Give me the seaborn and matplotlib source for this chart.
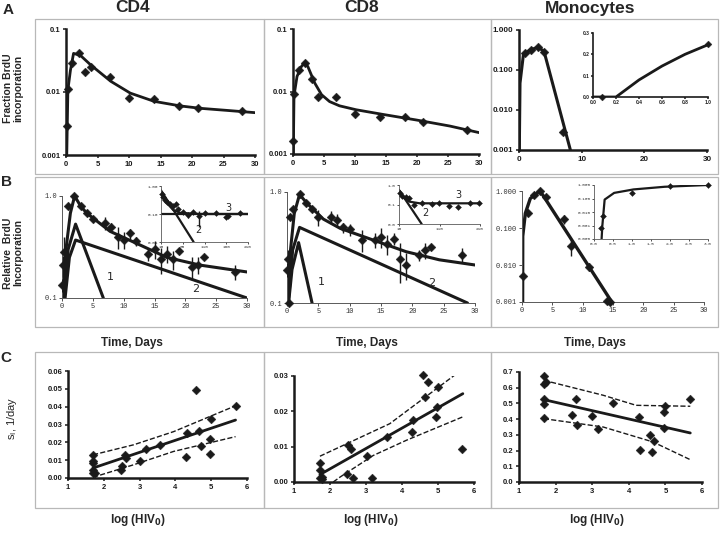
import numpy as np
import pandas as pd
import matplotlib
matplotlib.use("Agg")
import matplotlib.pyplot as plt
import seaborn as sns
from matplotlib.patches import Rectangle
from matplotlib.ticker import NullLocator

# ---------------- DATA ----------------
# Row A: fraction BrdU incorporation (log scale)
a_cd4_t = [0.15, 0.3, 1, 2, 3, 4, 7, 10, 14, 18, 21, 28]
a_cd4_y = [0.0029, 0.011, 0.029, 0.041, 0.021, 0.025, 0.0176, 0.0079, 0.0077, 0.0061, 0.0056, 0.005]
a_cd4_fit_t = [0.12, 0.3, 0.7, 1.2, 2.3, 3.9, 7.1, 10.2, 14, 18.2, 21.4, 25.6, 30]
a_cd4_fit_y = [0.001, 0.0108, 0.022, 0.041, 0.038, 0.027, 0.0148, 0.0096, 0.0071, 0.006, 0.0055, 0.0051, 0.0047]

a_cd8_t = [0.0, 0.1, 1, 2, 3, 4, 7, 10, 14, 18, 21, 28]
a_cd8_y = [0.0016, 0.0091, 0.0224, 0.0285, 0.0158, 0.0083, 0.0081, 0.0043, 0.0039, 0.0039, 0.0032, 0.0024]
a_cd8_fit_t = [0.05, 0.16, 0.65, 1.34, 1.9, 2.4, 3.5, 4.6, 5.9, 7.5, 10.2, 14.5, 19.9, 25.3, 30]
a_cd8_fit_y = [0.001, 0.0085, 0.0174, 0.025, 0.029, 0.025, 0.0137, 0.0089, 0.0069, 0.0059, 0.0051, 0.0043, 0.0035, 0.0028, 0.0022]

a_mono_t = [0.9, 1.9, 3.1, 4.0, 7.0]
a_mono_y = [0.26, 0.32, 0.38, 0.29, 0.0029]
a_mono_fit_t = [0.05, 0.16, 0.7, 1.8, 3.1, 4.0, 8.2]
a_mono_fit_y = [0.001, 0.047, 0.24, 0.32, 0.37, 0.29, 0.001]
a_mono_in_t = [0.08, 1.0]
a_mono_in_y = [0.0, 0.25]
a_mono_in_fit_t = [0.0, 0.2, 0.3, 0.4, 0.6, 0.8, 1.0]
a_mono_in_fit_y = [0.0, 0.0, 0.04, 0.08, 0.145, 0.2, 0.245]

# Row B: relative BrdU incorporation
b_cd4_t = [0, 0.2, 0.3, 1, 2, 3, 4, 5, 7, 8, 9, 10, 11, 12, 14, 15, 16, 17, 18, 19, 21, 22, 23, 28]
b_cd4_y = [0.135, 0.21, 0.28, 0.8, 1.0, 0.79, 0.68, 0.59, 0.54, 0.5, 0.4, 0.37, 0.43, 0.36,
           0.27, 0.30, 0.24, 0.27, 0.24, 0.29, 0.2, 0.21, 0.25, 0.18]
b_cd4_err = [0.02, 0.05, 0.12, 0.03, 0.0, 0.03, 0.03, 0.03, 0.08, 0.04, 0.1, 0.07, 0.05, 0.04,
             0.04, 0.06, 0.07, 0.05, 0.05, 0.02, 0.05, 0.04, 0.0, 0.03]
b_cd4_fit_t = [0.15, 0.7, 1.36, 2.05, 3.0, 4.0, 7.8, 12.7, 17, 22.4, 30]
b_cd4_fit_y = [0.1, 0.32, 0.68, 1.0, 0.8, 0.68, 0.45, 0.33, 0.25, 0.21, 0.18]
b_cd4_c1_t = [0.35, 1.0, 2.2, 6.7]
b_cd4_c1_y = [0.1, 0.3, 0.53, 0.1]
b_cd4_c2_t = [0.5, 1.2, 2.2, 30]
b_cd4_c2_y = [0.1, 0.25, 0.37, 0.1]
b_cd4_in_t = [11.5, 15.3, 19, 24.5, 30.6, 36.7, 43.6, 49.7, 59.6, 71, 84, 97.8, 110.8, 137.5, 158.9, 164, 191]
b_cd4_in_y = [0.53, 0.40, 0.31, 0.27, 0.23, 0.19, 0.23, 0.155, 0.12, 0.09, 0.12, 0.083, 0.11, 0.11, 0.079, 0.083, 0.11]
b_cd4_in_err = [0, 0, 0, 0, 0, 0, 0, 0, 0, 0.02, 0, 0.05, 0, 0, 0, 0, 0]
b_cd4_in_fit_t = [10, 23, 38, 54, 99, 210]
b_cd4_in_fit_y = [0.6, 0.25, 0.14, 0.11, 0.1, 0.1]
b_cd4_in_c2_t = [10, 85]
b_cd4_in_c2_y = [0.7, 0.01]
b_cd4_in_c3_t = [10, 210]
b_cd4_in_c3_y = [0.097, 0.097]

b_cd8_t = [0, 0.1, 0.25, 0.5, 1, 2, 3, 4, 5, 7, 8, 9, 10, 12, 14, 15, 16, 17, 18, 19, 21, 22, 23, 28]
b_cd8_y = [0.2, 0.25, 0.1, 0.6, 0.71, 0.95, 0.79, 0.71, 0.59, 0.59, 0.56, 0.48, 0.46, 0.37,
           0.37, 0.39, 0.34, 0.38, 0.25, 0.22, 0.27, 0.30, 0.32, 0.27]
b_cd8_err = [0.03, 0.05, 0.0, 0.03, 0.03, 0.0, 0.03, 0.04, 0.1, 0.08, 0.08, 0.05, 0.06, 0.08,
             0.06, 0.08, 0.07, 0.05, 0.1, 0.06, 0.03, 0.05, 0.0, 0.04]
b_cd8_fit_t = [0.1, 0.5, 1.16, 2.0, 3.2, 5.8, 8.5, 13.7, 19, 24.3, 30]
b_cd8_fit_y = [0.1, 0.28, 0.64, 0.95, 0.79, 0.57, 0.47, 0.37, 0.29, 0.245, 0.22]
b_cd8_c1_t = [0.25, 0.8, 1.85, 4.0]
b_cd8_c1_y = [0.1, 0.2, 0.35, 0.1]
b_cd8_c2_t = [0.2, 0.9, 2.0, 28.8]
b_cd8_c2_y = [0.1, 0.3, 0.48, 0.1]
b_cd8_in_t = [12.6, 18.6, 27.2, 35.8, 46, 65.8, 91.5, 108.7, 134.5, 156, 186, 207]
b_cd8_in_y = [0.37, 0.27, 0.25, 0.21, 0.094, 0.115, 0.107, 0.115, 0.084, 0.071, 0.125, 0.115]
b_cd8_in_fit_t = [10, 23, 35.7, 61, 210]
b_cd8_in_fit_y = [0.55, 0.21, 0.14, 0.115, 0.115]
b_cd8_in_c2_t = [10, 66]
b_cd8_in_c2_y = [0.55, 0.01]

b_mono_t = [0.17, 1, 2, 3, 4, 7, 8, 11, 14, 14.5]
b_mono_y = [0.0049, 0.25, 0.78, 1.0, 0.7, 0.18, 0.033, 0.0091, 0.00105, 0.001]
b_mono_err = [0.0, 0.03, 0.05, 0.0, 0.05, 0.05, 0.015, 0.002, 0.0, 0.0]
b_mono_fit_t = [0.1, 0.12, 0.55, 1.37, 3.0, 14.8]
b_mono_fit_y = [0.001, 0.06, 0.25, 0.63, 1.0, 0.001]
b_mono_in_t = [0.19, 0.24, 1.0, 2.0, 3.0]
b_mono_in_y = [0.00063, 0.0053, 0.27, 0.84, 1.0]
b_mono_in_fit_t = [0.2, 0.22, 0.28, 0.53, 1.04, 1.86, 3.0]
b_mono_in_fit_y = [0.0001, 0.001, 0.083, 0.26, 0.47, 0.74, 1.0]

# Row C: s1 vs log(HIV0)
c_cd4_x = [1.7, 1.7, 1.7, 1.7, 1.7, 1.75, 2.48, 2.52, 2.59, 2.63, 3.02, 3.17, 3.58, 4.3, 4.32,
           4.58, 4.66, 4.72, 4.96, 4.97, 5.0, 5.68]
c_cd4_y = [0.013, 0.0097, 0.0084, 0.0046, 0.0028, 0.0028, 0.0043, 0.0069, 0.013, 0.011, 0.0093,
           0.0163, 0.0186, 0.0117, 0.0254, 0.0496, 0.0266, 0.0177, 0.0217, 0.0134, 0.0333, 0.0405]
c_cd4_fit_x = [1.7, 5.68]
c_cd4_fit_y = [0.0056, 0.0325]
c_cd4_up_x = [1.7, 2.83, 3.95, 5.68]
c_cd4_up_y = [0.013, 0.0186, 0.026, 0.0405]
c_cd4_lo_x = [1.7, 2.83, 3.95, 5.68]
c_cd4_lo_y = [0.0004, 0.0074, 0.0149, 0.0232]

c_cd8_x = [1.72, 1.72, 1.72, 1.77, 1.79, 2.51, 2.58, 2.48, 2.65, 3.03, 3.17, 3.59, 4.29, 4.31,
           4.59, 4.65, 4.72, 4.94, 4.96, 5.01, 5.68]
c_cd8_y = [0.0055, 0.0035, 0.0011, 0.0009, 0.0014, 0.0104, 0.0092, 0.0024, 0.0011, 0.0075,
           0.0011, 0.0127, 0.0142, 0.0175, 0.0302, 0.0241, 0.0283, 0.0184, 0.0212, 0.0269, 0.0094]
c_cd8_fit_x = [1.72, 5.69]
c_cd8_fit_y = [0.0021, 0.025]
c_cd8_up_x = [1.72, 3.66, 5.6]
c_cd8_up_y = [0.0073, 0.0165, 0.0313]
c_cd8_lo_x = [2.09, 2.28, 3.2, 4.12, 5.68]
c_cd8_lo_y = [0.0, 0.0014, 0.0075, 0.0118, 0.0184]

c_mono_x = [1.68, 1.68, 1.75, 1.68, 1.68, 1.68, 2.45, 2.55, 2.59, 3.0, 3.15, 3.56, 4.28, 4.3,
            4.57, 4.64, 4.7, 4.95, 5.0, 4.95, 5.68]
c_mono_y = [0.675, 0.626, 0.637, 0.53, 0.498, 0.408, 0.425, 0.529, 0.365, 0.423, 0.34, 0.505,
            0.416, 0.206, 0.297, 0.191, 0.261, 0.446, 0.482, 0.344, 0.529]
c_mono_fit_x = [1.68, 5.68]
c_mono_fit_y = [0.524, 0.312]
c_mono_up_x = [1.68, 3.3, 4.2, 5.68]
c_mono_up_y = [0.647, 0.552, 0.488, 0.482]
c_mono_lo_x = [1.68, 3.3, 4.66, 5.68]
c_mono_lo_y = [0.403, 0.35, 0.255, 0.142]

# ---------------- FIGURE ----------------
sns.set_theme(style="white")
plt.rcParams['font.family'] = ['Liberation Sans', 'DejaVu Sans']
plt.rcParams['mathtext.fontset'] = 'dejavusans'

W, H = 720, 534
fig = plt.figure(figsize=(7.2, 5.34), dpi=100)
fig.patch.set_facecolor('white')


def rect(x0, y0, x1, y1):
    return [x0 / W, 1 - y1 / H, (x1 - x0) / W, (y1 - y0) / H]


def add_box(x0, y0, x1, y1):
    fig.patches.append(Rectangle((x0 / W, 1 - y1 / H), (x1 - x0) / W, (y1 - y0) / H,
                                 transform=fig.transFigure, fill=False,
                                 edgecolor='0.72', lw=0.9))


for (y0, y1) in [(19, 174), (177, 327), (352, 508)]:
    add_box(35, y0, 264, y1)
    add_box(264, y0, 491, y1)
    add_box(491, y0, 718, y1)


def fit_line(ax, x, y, lw=2.0, ls='-'):
    sns.lineplot(x=x, y=y, ax=ax, color='k', lw=lw, sort=False, estimator=None,
                 linestyle=ls, legend=False)


def dots(ax, x, y, s=20):
    sns.scatterplot(x=x, y=y, ax=ax, marker='D', color='k', s=s, edgecolor='k',
                    linewidth=0.3, legend=False, zorder=5, clip_on=False)


def errs(ax, x, y, e):
    ax.errorbar(x, y, yerr=e, fmt='none', ecolor='k', elinewidth=1.0, capsize=0, zorder=4)


def style_bold(ax, xt, xl, yt, yl, fs=5.5, lw=1.8):
    ax.set_facecolor('none')
    for s in ['top', 'right']:
        ax.spines[s].set_visible(False)
    for s in ['left', 'bottom']:
        ax.spines[s].set_linewidth(lw)
        ax.spines[s].set_color('k')
    ax.tick_params(which='both', direction='out', length=2.5, width=1.1, pad=1.5,
                   bottom=True, left=True, colors='k')
    ax.yaxis.set_minor_locator(NullLocator())
    ax.xaxis.set_minor_locator(NullLocator())
    ax.set_xticks(xt)
    ax.set_xticklabels(xl, fontsize=fs, fontweight='bold')
    ax.set_yticks(yt)
    ax.set_yticklabels(yl, fontsize=fs, fontweight='bold')
    ax.set_xlabel('')
    ax.set_ylabel('')


def style_mono(ax, xt, xl, yt, yl, fs=5.0, lw=0.7):
    ax.set_facecolor('none')
    for s in ['top', 'right']:
        ax.spines[s].set_visible(False)
    for s in ['left', 'bottom']:
        ax.spines[s].set_linewidth(lw)
        ax.spines[s].set_color('0.35')
    ax.tick_params(which='both', direction='out', length=2, width=0.6, pad=1.5,
                   bottom=True, left=True, colors='0.2')
    ax.yaxis.set_minor_locator(NullLocator())
    ax.xaxis.set_minor_locator(NullLocator())
    ax.set_xticks(xt)
    ax.set_xticklabels(xl, fontsize=fs, family='Liberation Mono')
    ax.set_yticks(yt)
    ax.set_yticklabels(yl, fontsize=fs, family='Liberation Mono')
    ax.set_xlabel('')
    ax.set_ylabel('')


x30 = [0, 5, 10, 15, 20, 25, 30]
x30l = [str(v) for v in x30]

# ---- Row A ----
ax = fig.add_axes(rect(66, 29, 255, 155))
ax.set_yscale('log')
fit_line(ax, a_cd4_fit_t, a_cd4_fit_y)
dots(ax, a_cd4_t, a_cd4_y)
ax.set_xlim(0, 30); ax.set_ylim(0.001, 0.1)
style_bold(ax, x30, x30l, [0.001, 0.01, 0.1], ['0.001', '0.01', '0.1'])

ax = fig.add_axes(rect(293, 29, 479, 154))
ax.set_yscale('log')
fit_line(ax, a_cd8_fit_t, a_cd8_fit_y)
dots(ax, a_cd8_t, a_cd8_y)
ax.set_xlim(0, 30); ax.set_ylim(0.001, 0.1)
style_bold(ax, x30, x30l, [0.001, 0.01, 0.1], ['0.001', '0.01', '0.1'])

ax = fig.add_axes(rect(519, 30, 707, 150))
ax.set_yscale('log')
fit_line(ax, a_mono_fit_t, a_mono_fit_y, lw=2.2)
dots(ax, a_mono_t, a_mono_y)
ax.set_xlim(0, 30); ax.set_ylim(0.001, 1.0)
style_bold(ax, [0, 10, 20, 30], ['0', '10', '20', '30'],
           [0.001, 0.01, 0.1, 1.0], ['0.001', '0.010', '0.100', '1.000'], fs=5.8)

ax = fig.add_axes(rect(593, 33, 708, 97))
fit_line(ax, a_mono_in_fit_t, a_mono_in_fit_y)
dots(ax, a_mono_in_t, a_mono_in_y, s=12)
ax.set_xlim(0, 1.0); ax.set_ylim(0, 0.3)
style_bold(ax, [0, 0.2, 0.4, 0.6, 0.8, 1.0], ['0.0', '0.2', '0.4', '0.6', '0.8', '1.0'],
           [0, 0.1, 0.2, 0.3], ['0.0', '0.1', '0.2', '0.3'], fs=3.5, lw=1.2)
ax.tick_params(length=1.5, pad=1)

# ---- Row B ----
ax = fig.add_axes(rect(62, 196, 247, 298))
ax.set_yscale('log')
fit_line(ax, b_cd4_fit_t, b_cd4_fit_y, lw=2.2)
fit_line(ax, b_cd4_c1_t, b_cd4_c1_y, lw=2.2)
fit_line(ax, b_cd4_c2_t, b_cd4_c2_y, lw=2.2)
errs(ax, b_cd4_t, b_cd4_y, b_cd4_err)
dots(ax, b_cd4_t, b_cd4_y)
ax.text(7.8, 0.16, '1', fontsize=8, ha='center', va='center', family='DejaVu Sans')
ax.text(21.6, 0.123, '2', fontsize=8, ha='center', va='center', family='DejaVu Sans')
ax.set_xlim(0, 30); ax.set_ylim(0.1, 1.0)
style_mono(ax, x30, x30l, [0.1, 1.0], ['0.1', '1.0'])

ax = fig.add_axes(rect(161, 186, 248, 242))
ax.set_yscale('log')
fit_line(ax, b_cd4_in_c3_t, b_cd4_in_c3_y, lw=1.6)
fit_line(ax, b_cd4_in_c2_t, b_cd4_in_c2_y, lw=1.6)
fit_line(ax, b_cd4_in_fit_t, b_cd4_in_fit_y, lw=1.6)
errs(ax, b_cd4_in_t, b_cd4_in_y, b_cd4_in_err)
dots(ax, b_cd4_in_t, b_cd4_in_y, s=9)
ax.text(97, 0.026, '2', fontsize=7, ha='center', va='center', family='DejaVu Sans')
ax.text(166, 0.16, '3', fontsize=7, ha='center', va='center', family='DejaVu Sans')
ax.set_xlim(10, 210); ax.set_ylim(0.01, 1.0)
style_mono(ax, [10, 60, 110, 160, 210], ['10', '60', '110', '160', '210'],
           [0.01, 0.1, 1.0], ['0.01', '0.10', '1.00'], fs=3.2, lw=0.6)
ax.tick_params(length=1.2, pad=1)

ax = fig.add_axes(rect(287, 192, 475, 303))
ax.set_yscale('log')
fit_line(ax, b_cd8_fit_t, b_cd8_fit_y, lw=2.2)
fit_line(ax, b_cd8_c1_t, b_cd8_c1_y, lw=2.2)
fit_line(ax, b_cd8_c2_t, b_cd8_c2_y, lw=2.2)
errs(ax, b_cd8_t, b_cd8_y, b_cd8_err)
dots(ax, b_cd8_t, b_cd8_y)
ax.text(5.5, 0.155, '1', fontsize=8, ha='center', va='center', family='DejaVu Sans')
ax.text(23.1, 0.15, '2', fontsize=8, ha='center', va='center', family='DejaVu Sans')
ax.set_xlim(0, 30); ax.set_ylim(0.1, 1.0)
style_mono(ax, x30, x30l, [0.1, 1.0], ['0.1', '1.0'])

ax = fig.add_axes(rect(399, 185, 480, 224))
ax.set_yscale('log')
fit_line(ax, b_cd8_in_fit_t, b_cd8_in_fit_y, lw=1.6)
fit_line(ax, b_cd8_in_c2_t, b_cd8_in_c2_y, lw=1.6)
dots(ax, b_cd8_in_t, b_cd8_in_y, s=9)
ax.text(76, 0.035, '2', fontsize=7, ha='center', va='center', family='DejaVu Sans')
ax.text(156, 0.31, '3', fontsize=7, ha='center', va='center', family='DejaVu Sans')
ax.set_xlim(10, 210); ax.set_ylim(0.01, 1.0)
style_mono(ax, [10, 110, 210], ['10', '110', '210'],
           [0.01, 0.1, 1.0], ['0.0', '0.1', '1.0'], fs=3.2, lw=0.6)
ax.tick_params(length=1.2, pad=1)

ax = fig.add_axes(rect(522, 191, 704, 302))
ax.set_yscale('log')
fit_line(ax, b_mono_fit_t, b_mono_fit_y, lw=2.4)
errs(ax, b_mono_t, b_mono_y, b_mono_err)
dots(ax, b_mono_t, b_mono_y)
ax.set_xlim(0, 30); ax.set_ylim(0.001, 1.0)
style_mono(ax, x30, x30l, [0.001, 0.01, 0.1, 1.0], ['0.001', '0.010', '0.100', '1.000'])

ax = fig.add_axes(rect(594, 185, 708, 239))
ax.set_yscale('log')
fit_line(ax, b_mono_in_fit_t, b_mono_in_fit_y, lw=1.6)
dots(ax, b_mono_in_t, b_mono_in_y, s=9)
ax.set_xlim(0, 3.0); ax.set_ylim(0.0001, 1.0)
style_mono(ax, [0, 0.5, 1.0, 1.5, 2.0, 2.5, 3.0], ['0.0', '0.5', '1.0', '1.5', '2.0', '2.5', '3.0'],
           [0.0001, 0.001, 0.01, 0.1, 1.0], ['0.000', '0.001', '0.010', '0.100', '1.000'],
           fs=3.2, lw=0.6)
ax.tick_params(length=1.2, pad=1)

# ---- Row C ----
x6 = [1, 2, 3, 4, 5, 6]
x6l = [str(v) for v in x6]

ax = fig.add_axes(rect(68, 371, 247, 478))
fit_line(ax, c_cd4_up_x, c_cd4_up_y, lw=1.0, ls='--')
fit_line(ax, c_cd4_lo_x, c_cd4_lo_y, lw=1.0, ls='--')
fit_line(ax, c_cd4_fit_x, c_cd4_fit_y, lw=2.0)
dots(ax, c_cd4_x, c_cd4_y)
ax.set_xlim(1, 6); ax.set_ylim(0, 0.06)
style_bold(ax, x6, x6l, [0, 0.01, 0.02, 0.03, 0.04, 0.05, 0.06],
           ['0.00', '0.01', '0.02', '0.03', '0.04', '0.05', '0.06'])

ax = fig.add_axes(rect(294, 376, 474, 482))
fit_line(ax, c_cd8_up_x, c_cd8_up_y, lw=1.0, ls='--')
fit_line(ax, c_cd8_lo_x, c_cd8_lo_y, lw=1.0, ls='--')
fit_line(ax, c_cd8_fit_x, c_cd8_fit_y, lw=2.0)
dots(ax, c_cd8_x, c_cd8_y)
ax.set_xlim(1, 6); ax.set_ylim(0, 0.03)
style_bold(ax, x6, x6l, [0, 0.01, 0.02, 0.03], ['0.00', '0.01', '0.02', '0.03'])

ax = fig.add_axes(rect(519, 372, 702, 482))
fit_line(ax, c_mono_up_x, c_mono_up_y, lw=1.0, ls='--')
fit_line(ax, c_mono_lo_x, c_mono_lo_y, lw=1.0, ls='--')
fit_line(ax, c_mono_fit_x, c_mono_fit_y, lw=2.0)
dots(ax, c_mono_x, c_mono_y)
ax.set_xlim(1, 6); ax.set_ylim(0, 0.7)
style_bold(ax, x6, x6l, [0, 0.1, 0.2, 0.3, 0.4, 0.5, 0.6, 0.7],
           ['0.0', '0.1', '0.2', '0.3', '0.4', '0.5', '0.6', '0.7'])

# ---------------- TEXT ----------------
def ftext(x, y, s, **kw):
    fig.text(x / W, 1 - y / H, s, **kw)

ftext(8, 10, 'A', fontsize=11, fontweight='bold', ha='center', va='center')
ftext(7, 182, 'B', fontsize=11, fontweight='bold', ha='center', va='center')
ftext(6, 358, 'C', fontsize=11, fontweight='bold', ha='center', va='center')

ftext(133, 8, 'CD4', fontsize=12.5, fontweight='bold', ha='center', va='center')
ftext(362, 8, 'CD8', fontsize=12.5, fontweight='bold', ha='center', va='center')
ftext(590, 8, 'Monocytes', fontsize=12.5, fontweight='bold', ha='center', va='center')

ftext(13, 88, 'Fraction BrdU\nincorporation', fontsize=7.5, fontweight='bold',
      rotation=90, ha='center', va='center', multialignment='center', linespacing=1.1)
ftext(13, 253, 'Relative  BrdU\nIncorporation', fontsize=7.5, fontweight='bold',
      rotation=90, ha='center', va='center', multialignment='center', linespacing=1.1)
ftext(12, 418, r's$_\mathregular{I}$, 1/day', fontsize=8, rotation=90, ha='center', va='center')

for xc in [132, 367, 595]:
    ftext(xc, 343, 'Time, Days', fontsize=8.5, fontweight='bold', ha='center', va='center')
for xc in [138, 371, 597]:
    ftext(xc, 520, r'log (HIV$_\mathbf{0}$)', fontsize=8.5, fontweight='bold',
          ha='center', va='center')

fig.savefig('out.png', dpi=100, facecolor='white')
